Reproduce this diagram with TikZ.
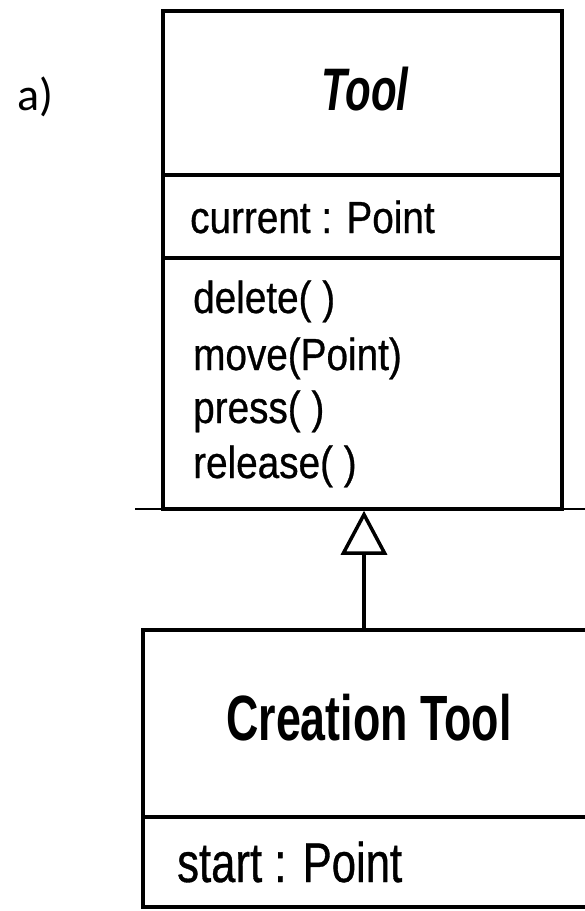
\documentclass[tikz,border=0pt]{standalone}
\usepackage{fontspec}
\setmainfont{Liberation Sans}
% narrow sans faces for the class boxes
\newfontfamily\membfont[FakeStretch=0.86,FakeBold=0.6]{Liberation Sans}
\newfontfamily\startfont[FakeStretch=0.78,FakeBold=0.6]{Liberation Sans}
\newfontfamily\namefont[FakeStretch=0.70]{Liberation Sans}
\newfontfamily\labelfont{Carlito}
\usetikzlibrary{arrows.meta}
\begin{document}
\begin{tikzpicture}[x=1pt,y=-1pt,
  box/.style={draw, line width=3.5pt, inner sep=0pt},
  divider/.style={line width=3.5pt},
  rule/.style={line width=2.5pt},
  member/.style={anchor=base west, inner sep=0pt, font=\membfont\fontsize{45}{52}\selectfont},
  startmember/.style={anchor=base west, inner sep=0pt, font=\startfont\fontsize{56}{64}\selectfont},
  classname/.style={anchor=base, inner sep=0pt},
  inherit/.style={line width=3.5pt, -{Triangle[open, length=44pt, width=46pt]}},
  panel/.style={anchor=base west, inner sep=0pt, font=\labelfont\fontsize{46}{54}\selectfont}
]
\useasboundingbox (0,0) rectangle (585,911);
\clip (0,0) rectangle (585,911);

% panel label
\node[panel] (lbl) at (17,110) {a)};

% class Tool
\node[box, minimum width=399pt, minimum height=498pt] (tool) at (362.5,260) {};
\coordinate (d1) at (0,175);
\coordinate (d2) at (0,258);
\draw[divider] (tool.west |- d1) -- (tool.east |- d1);
\draw[divider] (tool.west |- d2) -- (tool.east |- d2);
\node[classname, font=\namefont\bfseries\itshape\fontsize{60}{70}\selectfont] (toolname) at (365,110) {Tool};
\node[member] (attr) at (190,233) {current : Point};
\node[member] (m1) at (193,313) {delete( )};
\node[member] (m2) at (193,370) {move(Point)};
\node[member] (m3) at (193,423) {press( )};
\node[member] (m4) at (193,478) {release( )};

% horizontal rule under the superclass
\coordinate (ruleL) at (135,509);
\coordinate (ruleR) at (585,509);
\draw[rule] (ruleL) -- (ruleR);

% class Creation Tool
\node[box, minimum width=457pt, minimum height=277pt] (creation) at (371.5,768.5) {};
\coordinate (d3) at (0,817);
\draw[divider] (creation.west |- d3) -- (creation.east |- d3);
\node[classname, font=\namefont\bfseries\fontsize{64}{74}\selectfont] (crname) at (369,740) {Creation Tool};
\node[startmember] (sattr) at (177,882) {start : Point};

% generalisation
\coordinate (stem) at (364,0);
\draw[inherit] (creation.north -| stem) -- (tool.south -| stem);
\end{tikzpicture}
\end{document}
